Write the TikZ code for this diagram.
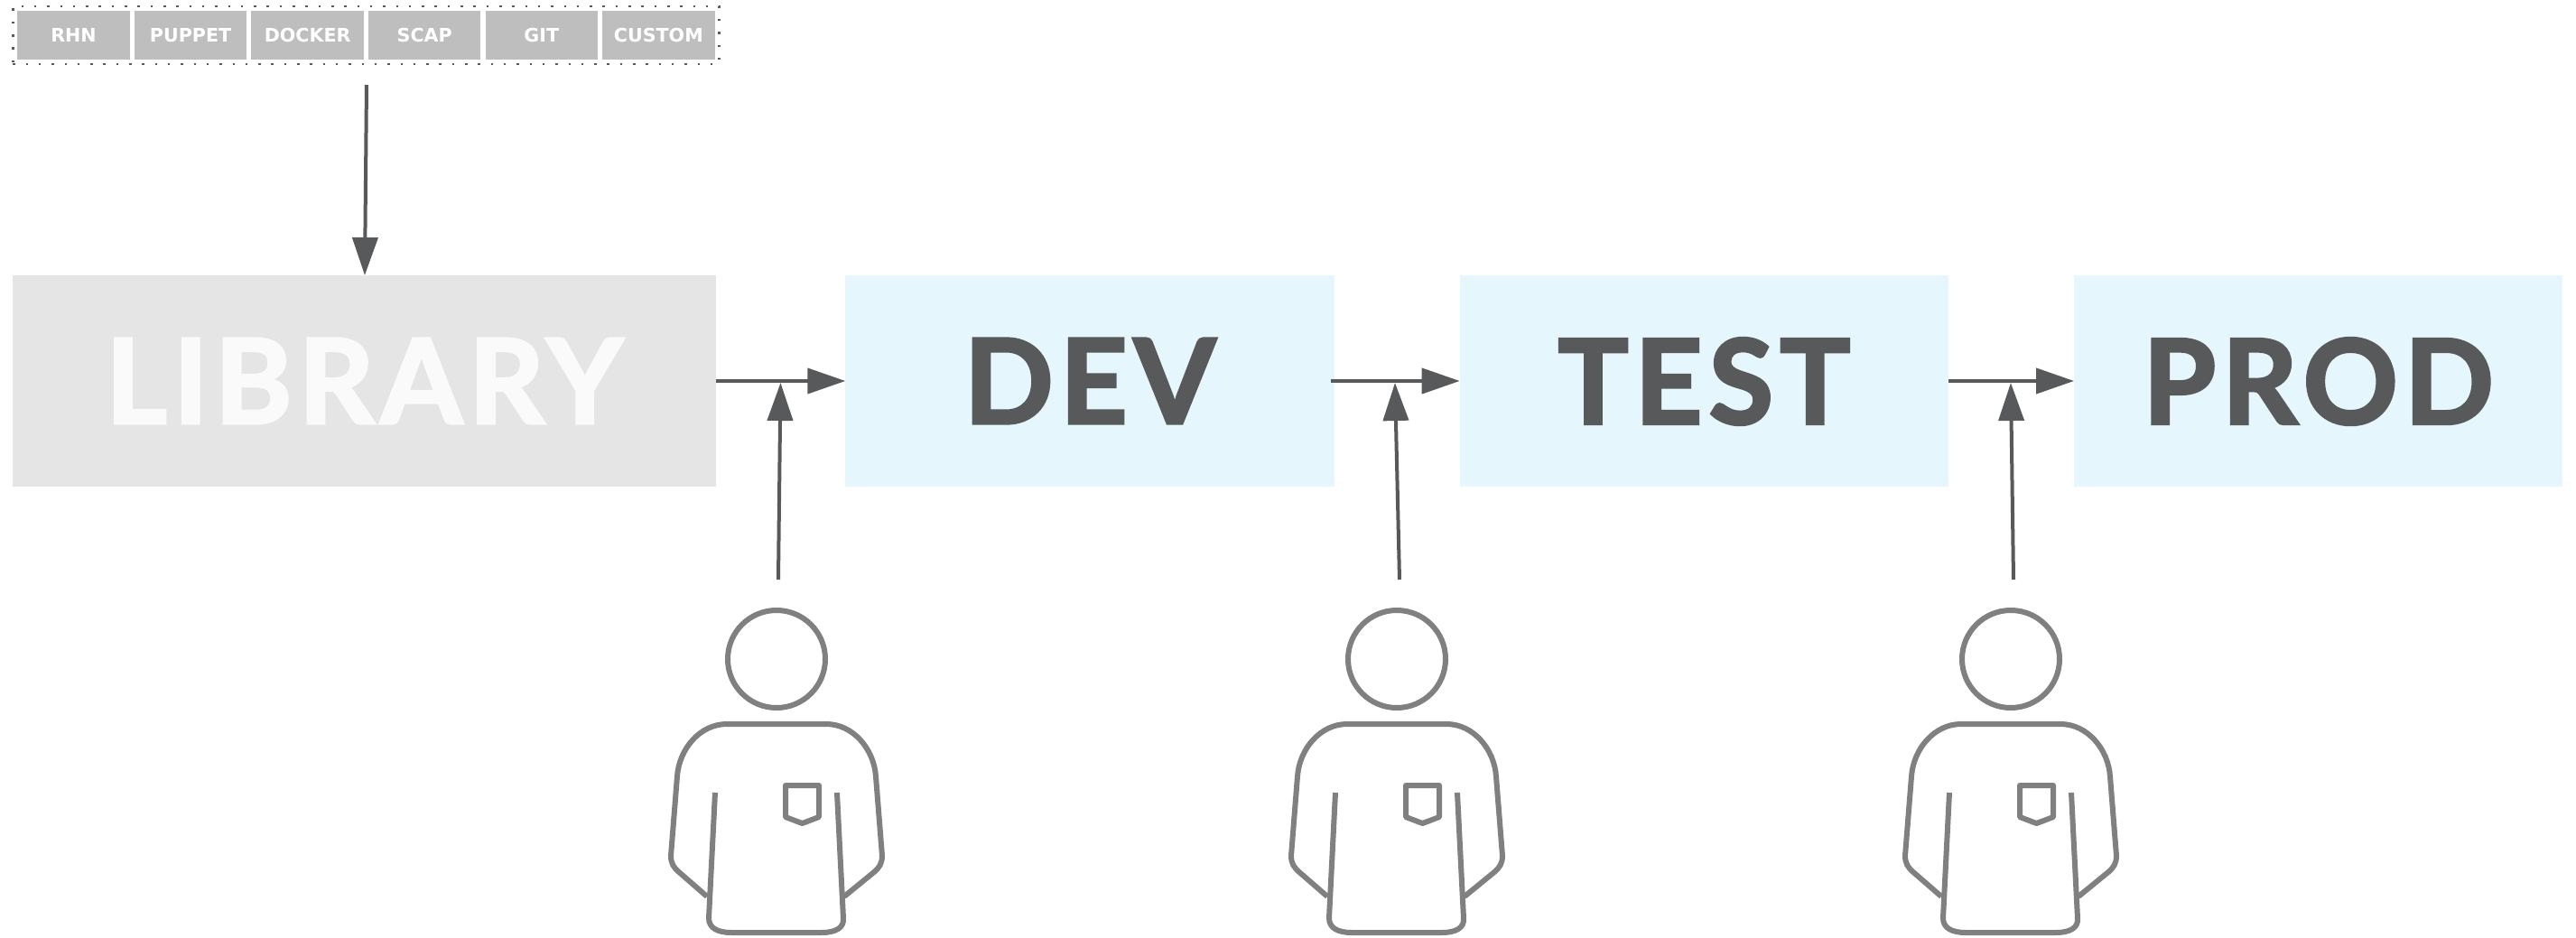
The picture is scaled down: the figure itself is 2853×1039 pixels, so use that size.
\documentclass[tikz,border=0pt]{standalone}
\usepackage{fontspec}
\usetikzlibrary{fit, calc, positioning, arrows.meta}
\newfontfamily\stagefont[LetterSpace=5.5, BoldFeatures={FakeBold=2.5}]{Lato}
\newfontfamily\sourcefont{DejaVu Sans}
\definecolor{arrow grey}{HTML}{58595B}
\definecolor{library grey}{HTML}{E5E5E5}
\definecolor{stage blue}{HTML}{E5F6FC}
\definecolor{source grey}{HTML}{BEBEBE}
\definecolor{person grey}{HTML}{808080}
\tikzset{
	source box/.style={fill=source grey, text=white, minimum width=1.243cm, minimum height=0.54cm, inner sep=0, outer sep=0, font=\sourcefont\bfseries\fontsize{5.86}{7}\selectfont},
	stage box/.style={fill=stage blue, text=arrow grey, minimum width=5.41cm, minimum height=2.34cm, inner sep=0, outer sep=0, text depth=0pt, font=\stagefont\bfseries\fontsize{37}{40}\selectfont},
	flow/.style={draw=arrow grey, line width=0.04cm, -{Triangle[length=0.42cm, width=0.28cm]}},
	person/.pic={
		\begin{scope}[draw=person grey, line width=0.06cm, line join=round]
			\draw (0,0) circle [radius=54];
			\draw (-77,263) -- (-108,236) .. controls (-114,231) and (-117,226) .. (-117,218) -- (-110,130) .. controls (-108,100) and (-85,72) .. (-55,72) -- (55,72) .. controls (85,72) and (108,100) .. (110,130) -- (117,218) .. controls (117,226) and (114,231) .. (108,236) -- (75,263);
			\draw (-68,148) -- (-75,287) .. controls (-75,298) and (-65,303) .. (-50,303) -- (50,303) .. controls (65,303) and (75,298) .. (74,287) -- (67,148);
			\draw (10,140) -- (47,140) -- (47,175) -- (28.5,182) -- (10,175) -- cycle;
		\end{scope}
	}
}

\begin{document}
\begin{tikzpicture}[x=0.01cm, y=-0.01cm]
			\useasboundingbox (0,0) rectangle (2853,1039);
			% sources
			\path (81.5,39) node[source box] (rhn) {RHN};
			\node[source box, right=0.052cm of rhn] (puppet) {PUPPET};
			\node[source box, right=0.052cm of puppet] (docker) {DOCKER};
			\node[source box, right=0.052cm of docker] (scap) {SCAP};
			\node[source box, right=0.052cm of scap] (git) {GIT};
			\node[source box, right=0.052cm of git] (custom) {CUSTOM};
			\node[fit=(rhn) (custom), inner sep=0.05cm, draw=arrow grey, line width=0.025cm, dash pattern=on 0.025cm off 0.118cm] (sources) {};
			% stages
			\path (403.5,422) node[stage box, fill=library grey, text=white!98!black, minimum width=7.79cm] (library) {LIBRARY};
			\node[stage box, right=1.43cm of library] (dev) {DEV};
			\node[stage box, right=1.39cm of dev] (test) {TEST};
			\node[stage box, right=1.39cm of test] (prod) {PROD};
			\draw[flow] (library.east) -- (dev.west);
			\draw[flow, shorten <=-0.04cm] (dev.east) -- (test.west);
			\draw[flow] (test.east) -- (prod.west);
			% people
			\path (860,730) pic {person};
			\path (1547,730) pic {person};
			\path (2227,730) pic {person};
			\coordinate (in lib) at (406,94);
			\coordinate (from 1) at (862,642);
			\coordinate (from 2) at (1550,642);
			\coordinate (from 3) at (2230,642);
			\coordinate (to 1) at (864.5,424);
			\coordinate (to 2) at (1545,424);
			\coordinate (to 3) at (2227,424);
			\draw[flow] (in lib) -- (404,305);
			\draw[flow] (from 1) -- (to 1);
			\draw[flow] (from 2) -- (to 2);
			\draw[flow] (from 3) -- (to 3);
		\end{tikzpicture}
\end{document}
